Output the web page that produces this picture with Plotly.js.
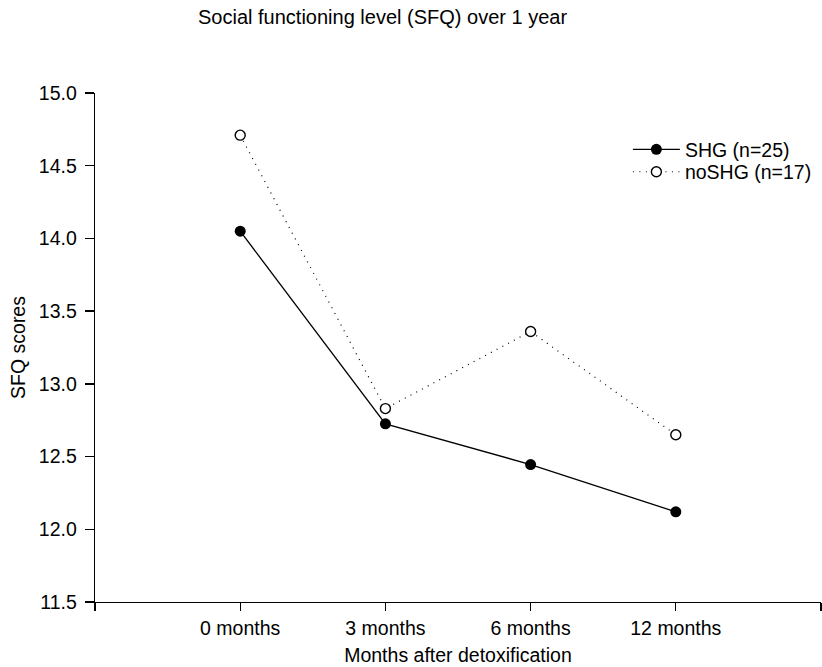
<!DOCTYPE html>
<html>
<head>
<meta charset="utf-8">
<script src="https://cdn.plot.ly/plotly-3.0.1.min.js"></script>
<style>
  html, body { margin: 0; padding: 0; background: #fff; }
  #chart { width: 822px; height: 667px; }
</style>
</head>
<body>
<div id="chart"></div>
<script>
// ---- data ----
const categories = ['0 months', '3 months', '6 months', '12 months'];
const shgValues = [14.05, 12.725, 12.445, 12.12];
const noShgValues = [14.71, 12.83, 13.36, 12.65];
const shgName = 'SHG (n=25)';
const noShgName = 'noSHG (n=17)';
const yTickValues = [11.5, 12.0, 12.5, 13.0, 13.5, 14.0, 14.5, 15.0];

const chartTitle = 'Social functioning level (SFQ) over 1 year';
const xTitle = 'Months after detoxification';
const yTitle = 'SFQ scores';

// ---- build ----
const xPos = categories.map((c, i) => i + 1);
const xTickVals = [0].concat(xPos, [categories.length + 1]);
const xTickText = [''].concat(categories, ['']);

const FONT = 'Liberation Sans, Arial, Helvetica, sans-serif';
const FS = 19.5;

const traces = [
  {
    x: xPos, y: shgValues, name: shgName, type: 'scatter', mode: 'lines+markers',
    line: { color: '#000', width: 1.3 },
    marker: { color: '#000', size: 11, symbol: 'circle' },
    legend: 'legend'
  },
  {
    x: xPos, y: noShgValues, name: noShgName, type: 'scatter', mode: 'lines+markers',
    line: { color: '#000', width: 1.2, dash: '1px,5.5px' },
    marker: { color: '#fff', size: 10, symbol: 'circle', line: { color: '#000', width: 1.4 } },
    legend: 'legend2'
  }
];

const legendBase = {
  x: 0.734, xanchor: 'left', xref: 'paper',
  yanchor: 'top', yref: 'paper',
  bgcolor: 'rgba(0,0,0,0)', borderwidth: 0,
  font: { family: FONT, size: FS, color: '#000' },
  itemwidth: 47
};

const layout = {
  width: 822, height: 667,
  margin: { l: 95, r: 1, t: 93, b: 65, pad: 0 },
  paper_bgcolor: '#fff', plot_bgcolor: '#fff',
  font: { family: FONT, size: FS, color: '#000' },
  title: {
    text: chartTitle, font: { family: FONT, size: 20, color: '#000' },
    xref: 'container', x: 198 / 822, xanchor: 'left',
    yref: 'container', y: 1 - 17 / 667, yanchor: 'middle'
  },
  xaxis: {
    range: [0, categories.length + 1],
    tickmode: 'array', tickvals: xTickVals, ticktext: xTickText,
    ticks: 'outside', ticklen: 8, tickwidth: 1.3, tickcolor: '#000',
    showline: true, linecolor: '#000', linewidth: 1.3,
    showgrid: false, zeroline: false,
    tickfont: { family: FONT, size: FS, color: '#000' },
    title: { text: xTitle, font: { family: FONT, size: FS, color: '#000' }, standoff: 10 }
  },
  yaxis: {
    range: [11.5, 15.0],
    tickmode: 'array', tickvals: yTickValues,
    ticktext: yTickValues.map(v => v.toFixed(1)),
    ticks: 'outside', ticklen: 9, tickwidth: 1.3, tickcolor: '#000',
    showline: true, linecolor: '#000', linewidth: 1.3,
    showgrid: false, zeroline: false,
    tickfont: { family: FONT, size: FS, color: '#000' },
    ticklabelstandoff: 4,
    title: { text: yTitle, font: { family: FONT, size: FS, color: '#000' }, standoff: 8 }
  },
  showlegend: true,
  legend: Object.assign({}, legendBase, { y: 0.927 }),
  legend2: Object.assign({}, legendBase, { y: 0.883 })
};

Plotly.newPlot('chart', traces, layout, { displayModeBar: false, staticPlot: true });
</script>
</body>
</html>
